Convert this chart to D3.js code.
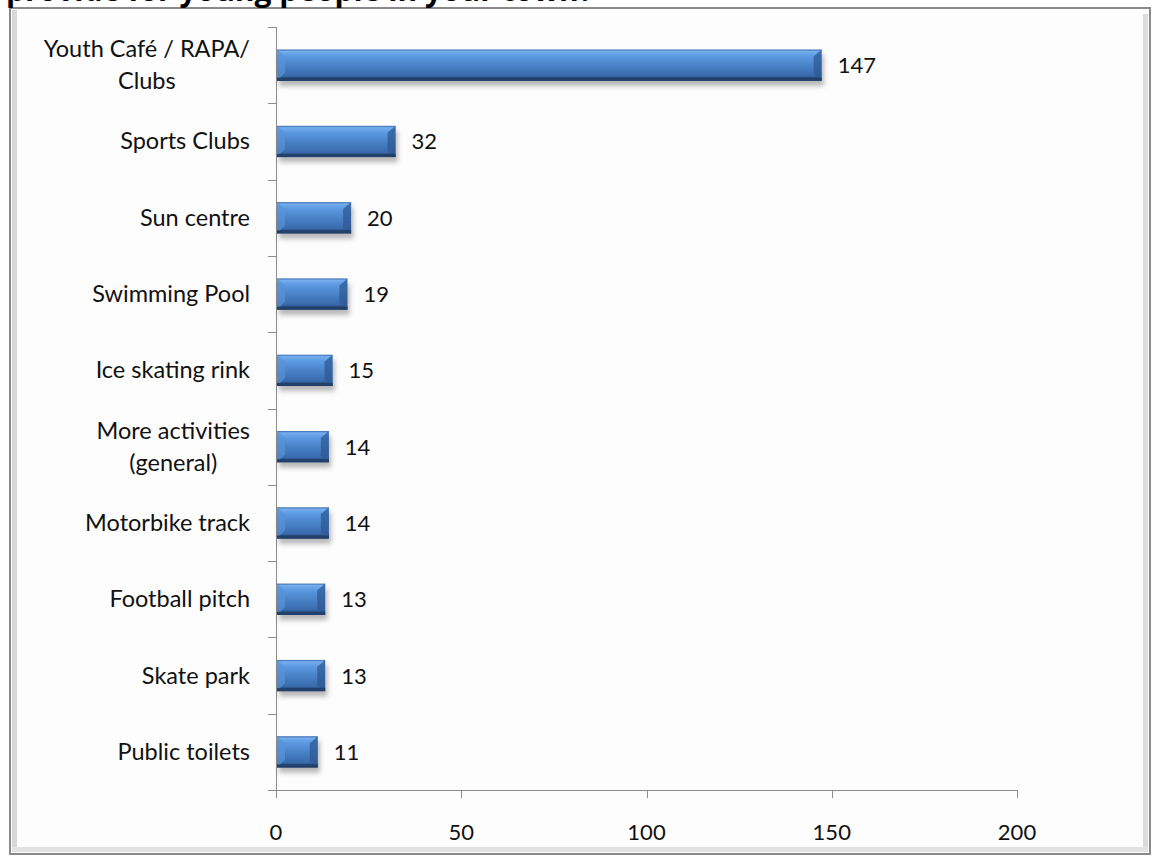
<!DOCTYPE html>
<html><head><meta charset="utf-8">
<script src="https://cdn.jsdelivr.net/npm/d3@7"></script>
<style>body{margin:0;background:#fff;}svg{display:block;}</style>
</head><body>
<svg id="c" width="1155" height="860"></svg>
<script>
const categories = [["Youth Café / RAPA/","Clubs"],["Sports Clubs"],["Sun centre"],["Swimming Pool"],["Ice skating rink"],["More activities","(general)"],["Motorbike track"],["Football pitch"],["Skate park"],["Public toilets"]];
const values = [147,32,20,19,15,14,14,13,13,11];
const xTicks = [0,50,100,150,200];
const titleText = "provide for young people in your town?";

const svg = d3.select("#c");
const font = "Lato, 'Open Sans', sans-serif";
const defs = svg.append("defs");
const g1 = defs.append("linearGradient").attr("id","bar").attr("x1",0).attr("y1",0).attr("x2",0).attr("y2",1);
[[0,"#3769ad"],[0.06,"#76aeee"],[0.2,"#5c9ae2"],[0.5,"#4a83c8"],[0.85,"#3869ab"],[0.9,"#295084"],[1,"#1d3b66"]].forEach(s=>g1.append("stop").attr("offset",s[0]).attr("stop-color",s[1]));
const f = defs.append("filter").attr("id","sh").attr("x","-10%").attr("y","-30%").attr("width","130%").attr("height","190%");
f.append("feDropShadow").attr("dx",2).attr("dy",5).attr("stdDeviation",2.5).attr("flood-color","#000").attr("flood-opacity",0.28);

// frame
svg.append("rect").attr("x",10).attr("y",8).attr("width",1140).attr("height",846).attr("fill","#fdfdfd").attr("stroke","#8a8a8a").attr("stroke-width",2);
svg.append("rect").attr("x",12).attr("y",10).attr("width",5).attr("height",842).attr("fill","#d8d8d8");
svg.append("rect").attr("x",1143).attr("y",14).attr("width",5).attr("height",838).attr("fill","#dcdcdc");
svg.append("rect").attr("x",12).attr("y",847).attr("width",1136).attr("height",5).attr("fill","#e2e2e2");

// title, mostly cut off by the top edge as in the reference
svg.append("text").attr("x",6).attr("y",1).attr("font-family","'Open Sans', sans-serif").attr("font-weight","bold").attr("font-size",30).attr("fill","#000").text(titleText);

const x = d3.scaleLinear().domain([0,200]).range([276,1017]);
const y = d3.scaleBand().domain(d3.range(values.length)).range([27,790]).paddingInner(0.59).paddingOuter(0.295);
const band = d3.scaleBand().domain(d3.range(values.length)).range([27,790]);

// axes
svg.append("line").attr("x1",276.5).attr("x2",276.5).attr("y1",27).attr("y2",790).attr("stroke","#8c8c8c");
svg.selectAll(".yt").data(d3.range(values.length+1)).join("line")
  .attr("x1",268).attr("x2",276).attr("y1",i=>Math.round(27+i*band.step())+0.5).attr("y2",i=>Math.round(27+i*band.step())+0.5).attr("stroke","#8c8c8c");
svg.append("line").attr("x1",268).attr("x2",x(200)).attr("y1",790.5).attr("y2",790.5).attr("stroke","#8c8c8c");
svg.selectAll(".xt").data(xTicks).join("line")
  .attr("x1",d=>Math.round(x(d))+0.5).attr("x2",d=>Math.round(x(d))+0.5).attr("y1",790).attr("y2",798).attr("stroke","#8c8c8c");
svg.selectAll(".xl").data(xTicks).join("text")
  .attr("x",d=>x(d)).attr("y",840).attr("text-anchor","middle").attr("font-family",font).attr("font-size",22).attr("fill","#111").text(d=>d);

// bars
const bars = svg.selectAll(".b").data(values).join("g").attr("filter","url(#sh)");
bars.append("rect").attr("x",x(0)+1).attr("y",(d,i)=>y(i)).attr("width",d=>x(d)-x(0)).attr("height",y.bandwidth()).attr("fill","url(#bar)");
bars.append("path").attr("d",(d,i)=>{const x0=x(0)+1,y0=y(i),h=y.bandwidth();return `M${x0},${y0}L${x0+8},${y0+7}L${x0+8},${y0+h-8}L${x0},${y0+h}Z`;}).attr("fill","#5a93d6").attr("opacity",0.7);
bars.append("path").attr("d",(d,i)=>{const x1=x(d)+1,y0=y(i),h=y.bandwidth();return `M${x1},${y0}L${x1-8},${y0+7}L${x1-8},${y0+h-6}L${x1},${y0+h}Z`;}).attr("fill","#2d5a94").attr("opacity",0.75);
bars.append("rect").attr("x",x(0)+1).attr("y",(d,i)=>y(i)+y.bandwidth()-3).attr("width",d=>x(d)-x(0)).attr("height",3).attr("fill","#203f6b");

// value labels
svg.selectAll(".v").data(values).join("text")
  .attr("x",d=>x(d)+17).attr("y",(d,i)=>y(i)+y.bandwidth()/2+8).attr("font-family",font).attr("font-size",22).attr("fill","#111").text(d=>d);

// category labels (multi-line blocks centred, block right edge at 250)
const cl = svg.selectAll(".c").data(categories).join("text")
  .attr("font-family",font).attr("font-size",23.5).attr("fill","#111");
cl.each(function(lines,i){
  const cy = y(i)+y.bandwidth()/2;
  const n = lines.length, lh = 32;
  const t = d3.select(this);
  const spans = t.selectAll("tspan").data(lines).join("tspan")
    .attr("y",(l,j)=>cy+8+(j-(n-1)/2)*lh).text(l=>l);
  if(n===1){ t.attr("text-anchor","end"); spans.attr("x",250); }
  else {
    let w=0; spans.each(function(){w=Math.max(w,this.getComputedTextLength());});
    t.attr("text-anchor","middle"); spans.attr("x",250-w/2);
  }
});
</script>
</body></html>
